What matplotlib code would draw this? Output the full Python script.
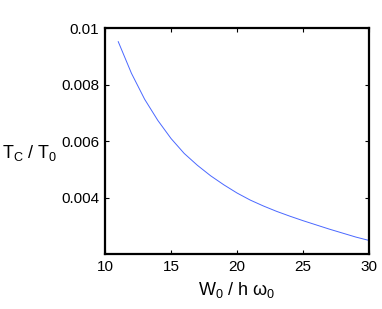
import numpy as np
import matplotlib
matplotlib.use('Agg')
import matplotlib.pyplot as plt

plt.rcParams['font.family'] = 'Liberation Sans'
plt.rcParams['mathtext.fontset'] = 'custom'
plt.rcParams['mathtext.rm'] = 'Liberation Sans'
plt.rcParams['mathtext.it'] = 'Liberation Sans'

# W0 / h w0 vs Tc / T0
w0 = [11, 12, 13, 14, 15, 16, 17, 18, 19, 20,
      21, 22, 23, 24, 25, 26, 27, 28, 29, 30]
tc = [0.00952, 0.00840, 0.00748, 0.00673, 0.00609, 0.00556, 0.00514, 0.00477, 0.00445, 0.00416,
      0.00391, 0.00370, 0.00351, 0.00334, 0.00318, 0.00303, 0.00288, 0.00274, 0.00260, 0.00248]
xticks = [10, 15, 20, 25, 30]
yticks = [0.004, 0.006, 0.008, 0.01]
ytick_labels = ['0.004', '0.006', '0.008', '0.01']

fig = plt.figure(figsize=(3.82, 3.09), dpi=100)
ax = fig.add_axes([0.275, 0.178, 0.691, 0.731])
ax.plot(w0, tc, color='#4a68ff', lw=0.7)

ax.set_xlim(10, 30)
ax.set_ylim(0.002, 0.01)
ax.set_xticks(xticks)
ax.set_xticklabels([str(t) for t in xticks])
ax.set_yticks(yticks)
ax.set_yticklabels(ytick_labels)
ax.tick_params(direction='in', length=3, width=0.8, labelsize=11,
               top=True, right=True, pad=4)
for s in ax.spines.values():
    s.set_linewidth(1.6)

ax.set_xlabel(r'$\mathregular{W_0\ /\ h\ \omega_0}$', fontsize=13, labelpad=5)
ax.set_ylabel(r'$\mathregular{T_C\ /\ T_0}$', fontsize=13, rotation=0,
              ha='left', va='center')
ax.yaxis.set_label_coords(-0.39, 0.445)

fig.savefig('out.png', dpi=100)
